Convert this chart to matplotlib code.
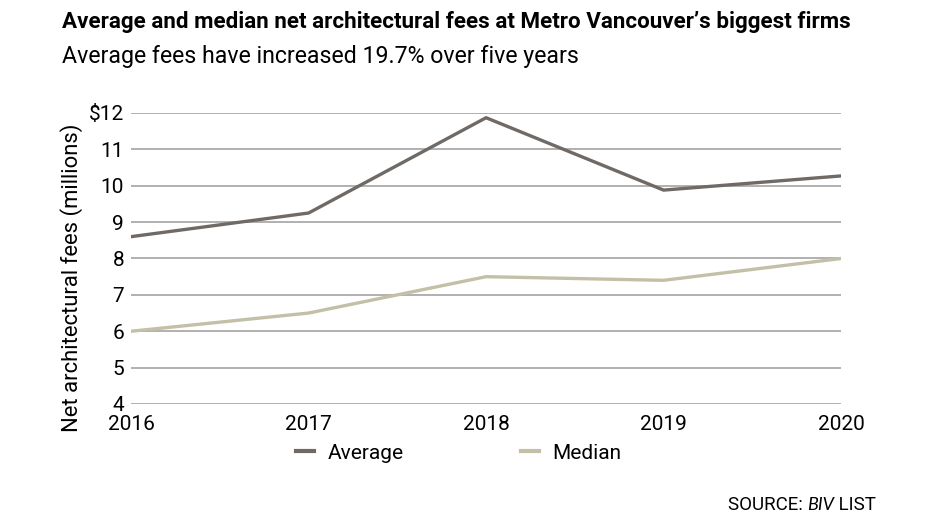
import matplotlib
matplotlib.use("Agg")
import matplotlib.pyplot as plt
from matplotlib import font_manager
from matplotlib.lines import Line2D

years = [2016, 2017, 2018, 2019, 2020]
average = [8.6, 9.25, 11.87, 9.88, 10.27]
median = [6.0, 6.5, 7.5, 7.4, 8.0]
y_ticks = [4, 5, 6, 7, 8, 9, 10, 11, 12]
y_labels = ['4', '5', '6', '7', '8', '9', '10', '11', '$12']

avg_col = '#6f6a66'
med_col = '#c3c0a8'

def fp(size, **kw):
    return font_manager.FontProperties(family=['Roboto', 'DejaVu Sans'], size=size, **kw)

fig = plt.figure(figsize=(9.38, 5.27), dpi=100)
ax = fig.add_axes([0.1397, 0.2334, 0.757, 0.5522])

for t in y_ticks:
    ax.axhline(t, color='#a3a3a3', lw=1.2, zorder=1)
ax.plot(years, average, color=avg_col, lw=2.4, zorder=3)
ax.plot(years, median, color=med_col, lw=2.4, zorder=3)

ax.set_xlim(2016, 2020)
ax.set_ylim(4, 12)
ax.set_xticks(years)
ax.set_xticklabels([str(y) for y in years], fontproperties=fp(15))
ax.set_yticks(y_ticks)
ax.set_yticklabels(y_labels, fontproperties=fp(15))
ax.tick_params(length=0, pad=5)
ax.tick_params(axis='x', pad=8)
for s in ax.spines.values():
    s.set_visible(False)
ax.set_ylabel('Net architectural fees (millions)', fontproperties=fp(15))
ax.yaxis.set_label_coords(-0.0676, 0.433)
ylab = ax.yaxis.label

title = fig.text(0.066, 0.958, 'Average and median net architectural fees at Metro Vancouver\u2019s biggest firms',
                 fontproperties=fp(17, weight='bold'), va='center')
sub = fig.text(0.066, 0.893, 'Average fees have increased 19.7% over five years',
               fontproperties=fp(15), va='center')

handles = [Line2D([], [], color=avg_col, lw=3), Line2D([], [], color=med_col, lw=3)]
fig.legend(handles, ['Average', 'Median'], loc='center', bbox_to_anchor=(0.489, 0.14),
           ncol=2, frameon=False, handlelength=0.87, handletextpad=0.67, columnspacing=5.6,
           prop=fp(15))

src1 = fig.text(0.0, 0.042, 'SOURCE: ', fontproperties=fp(13.5), va='center')
src2 = fig.text(0.0, 0.042, 'BIV', fontproperties=font_manager.FontProperties(
    family=['Lato', 'Open Sans', 'DejaVu Sans'], style='italic', size=13), va='center')
src3 = fig.text(0.0, 0.042, ' LIST', fontproperties=fp(13.5), va='center')

# fit the header and axis label to the sizes they take in the reference
fig.canvas.draw()
r = fig.canvas.get_renderer()
for txt, width in [(title, 786), (sub, 518)]:
    w = txt.get_window_extent(r).width
    txt.set_fontsize(txt.get_fontsize() * width / w)
h = ylab.get_window_extent(r).height
ylab.set_fontsize(ylab.get_fontsize() * 309 / h)

# source line: three pieces laid end to end, right edge at x=876
fig.canvas.draw()
widths = [t.get_window_extent(r).width for t in (src1, src2, src3)]
x = 876 - sum(widths)
for t, w in zip((src1, src2, src3), widths):
    t.set_x(x / 938)
    x += w

fig.savefig('out.png', dpi=100)
